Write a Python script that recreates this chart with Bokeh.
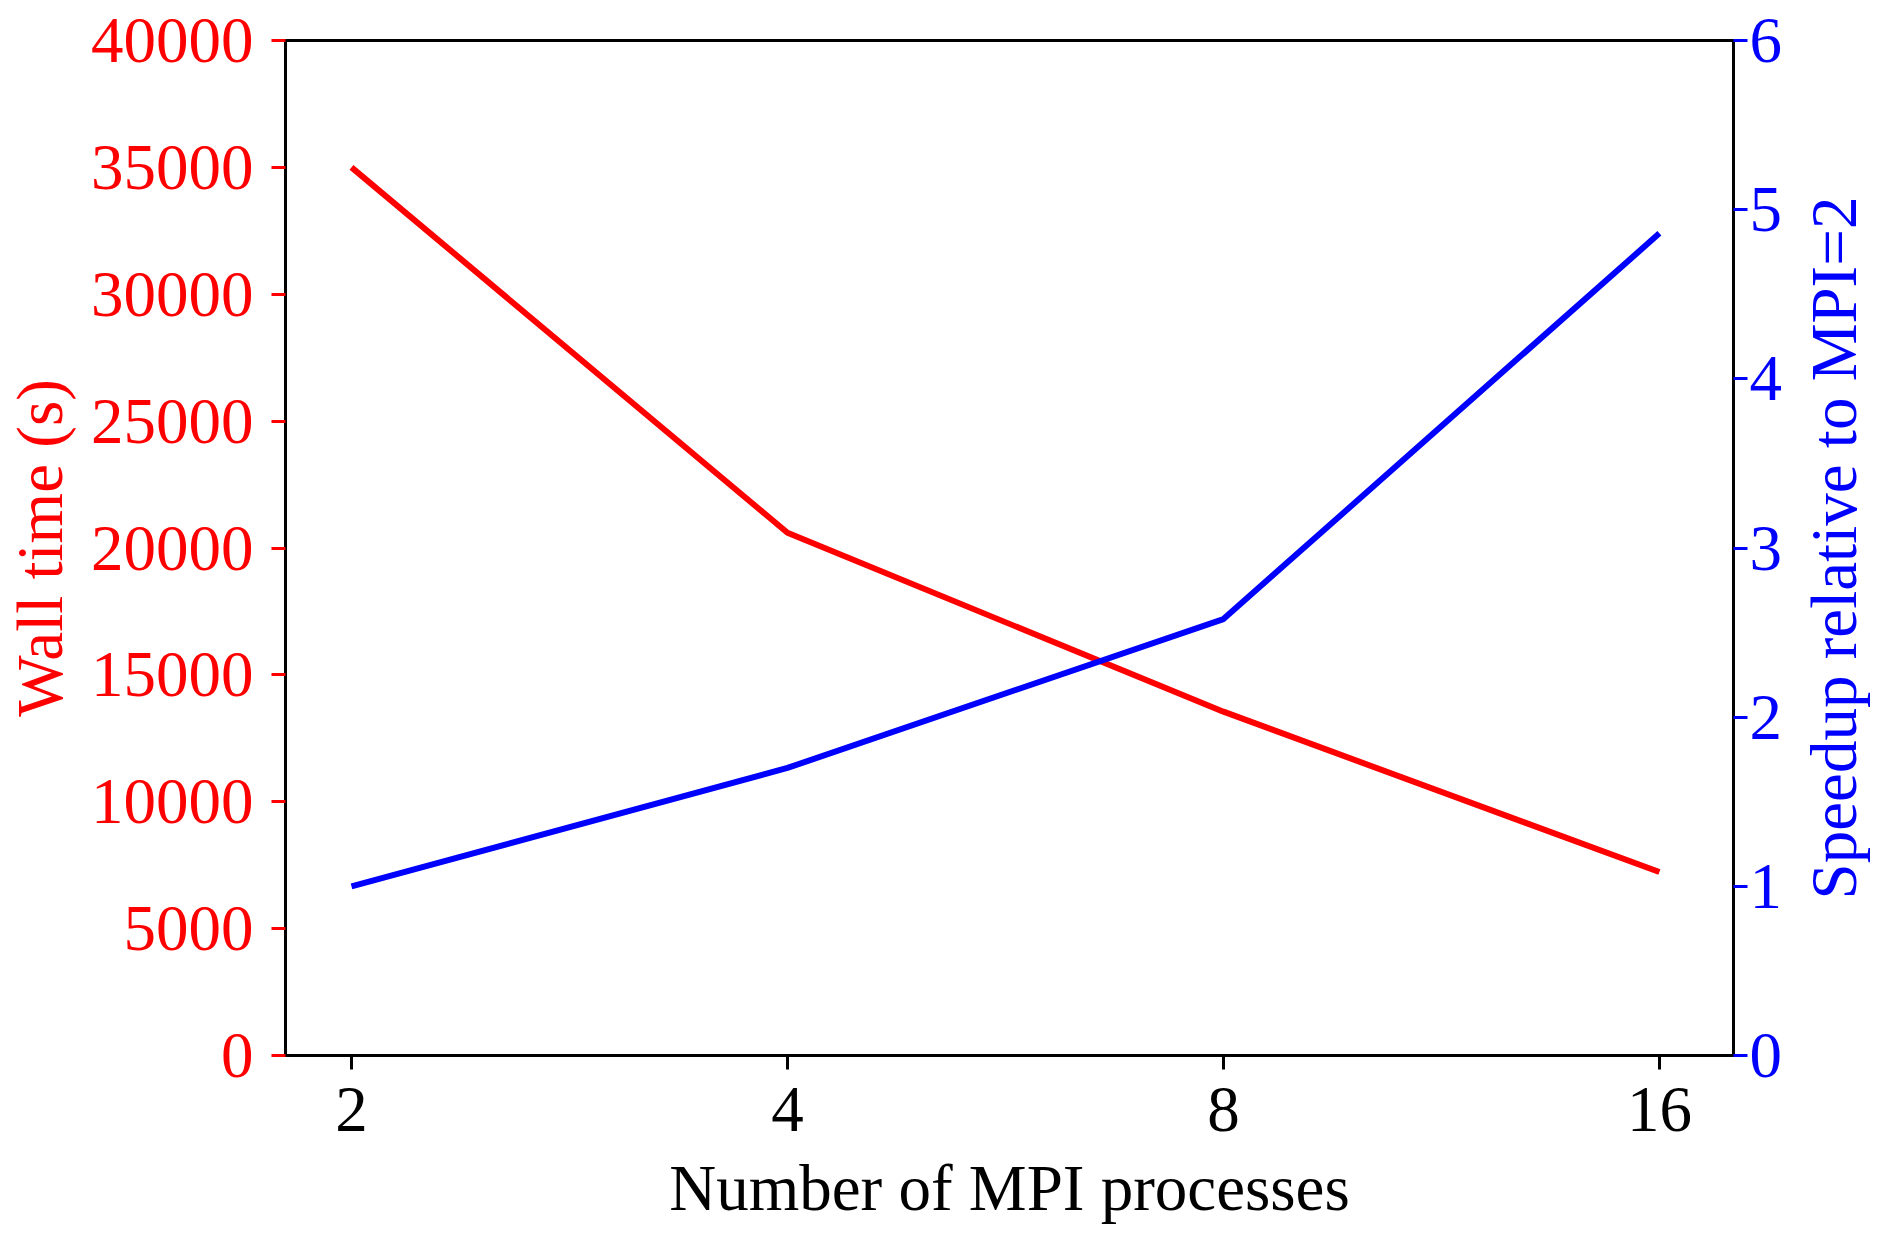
from bokeh.plotting import figure
from bokeh.layouts import row
from bokeh.models import Range1d, LinearAxis, FixedTicker, Title
from bokeh.embed import file_html
from bokeh.resources import INLINE

# data
mpi_procs = [2, 4, 8, 16]
wall_time = [35000, 20600, 13550, 7230]
speedup = [1.0, 1.70, 2.58, 4.86]
x_tick_labels = ["2", "4", "8", "16"]
left_ticks = list(range(0, 40001, 5000))
right_ticks = [0, 1, 2, 3, 4, 5, 6]

RED = "#ff0000"
BLUE = "#0000ff"
FONT = "Liberation Serif"
FS = "65px"

p = figure(
    x_axis_type="log",
    frame_width=1448, frame_height=1015,
    x_range=Range1d(2 ** 0.8486, 2 ** 4.170),
    y_range=Range1d(0, 40000),
    output_backend="svg", toolbar_location=None,
    min_border_left=285, min_border_top=40, min_border_right=62, min_border_bottom=150,
)
p.grid.visible = False
p.outline_line_color = "black"
p.outline_line_width = 3
p.background_fill_color = "white"
p.border_fill_color = "white"

p.extra_y_ranges = {"speed": Range1d(0, 6)}

p.line(mpi_procs, wall_time, line_color=RED, line_width=6)
p.line(mpi_procs, speedup, line_color=BLUE, line_width=6, y_range_name="speed")

# x axis
xa = p.xaxis[0]
xa.ticker = FixedTicker(ticks=mpi_procs, minor_ticks=[])
xa.major_label_overrides = {m: l for m, l in zip(mpi_procs, x_tick_labels)}
xa.axis_label = "Number of MPI processes"

# left axis
ya = p.yaxis[0]
ya.ticker = FixedTicker(ticks=left_ticks, minor_ticks=[])
ya.axis_label = "Wall time (s)"

# right axis
ra = LinearAxis(y_range_name="speed")
ra.ticker = FixedTicker(ticks=right_ticks, minor_ticks=[])
p.add_layout(ra, "right")

for ax, col in [(xa, "black"), (ya, RED), (ra, BLUE)]:
    ax.axis_line_color = "black"
    ax.axis_line_width = 3
    ax.major_tick_line_color = col
    ax.major_tick_line_width = 3
    ax.major_tick_out = 14
    ax.major_tick_in = 0
    ax.minor_tick_line_color = None
    ax.major_label_text_color = col
    ax.major_label_text_font = FONT
    ax.major_label_text_font_size = FS
    ax.axis_label_text_color = col
    ax.axis_label_text_font = FONT
    ax.axis_label_text_font_size = FS
    ax.axis_label_text_font_style = "normal"

xa.major_label_standoff = 18
xa.axis_label_standoff = 18
ya.major_label_standoff = 18
ya.axis_label_standoff = 12
ra.major_label_standoff = 2
ra.major_label_orientation = "horizontal"

# right-hand axis title, reading bottom-to-top like the left one
p2 = figure(
    frame_width=1, frame_height=1015,
    output_backend="svg", toolbar_location=None,
    min_border_left=0, min_border_right=0, min_border_top=40, min_border_bottom=0,
)
p2.axis.visible = False
p2.grid.visible = False
p2.outline_line_color = None
p2.background_fill_color = None
p2.border_fill_color = "white"
p2.add_layout(Title(text="Speedup relative to MPI=2", align="center",
                    text_color=BLUE, text_font=FONT, text_font_size=FS,
                    text_font_style="normal", standoff=0), "left")

layout = row(p, p2, spacing=0)
open("out.html", "w").write(file_html(layout, INLINE))
